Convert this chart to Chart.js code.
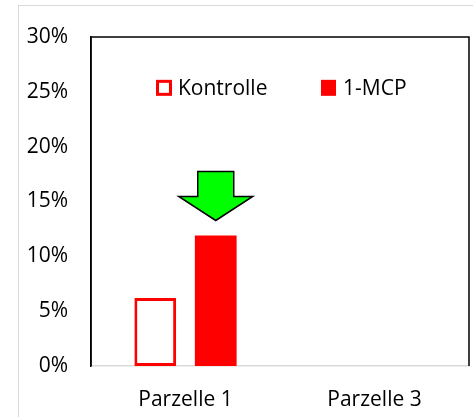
<!DOCTYPE html>
<html><head><meta charset="utf-8">
<script src="https://cdn.jsdelivr.net/npm/chart.js@4"></script>
<style>html,body{margin:0;padding:0;background:#fff}#wrap{width:473px;height:417px;position:relative}</style>
</head><body><div id="wrap"><canvas id="c" width="473" height="417"></canvas></div>
<script>
const categories = ["Parzelle 1", "Parzelle 3"];
const seriesNames = ["Kontrolle", "1-MCP"];
const kontrolle = [0.062, null];
const mcp = [0.119, null];
const yTicks = [0, 0.05, 0.10, 0.15, 0.20, 0.25, 0.30];
const FONT = "'Open Sans', sans-serif";
const FS = 21;

const framePlugin = {
  id: 'frame',
  beforeDraw(chart) {
    const ctx = chart.ctx;
    ctx.save();
    ctx.fillStyle = '#fff';
    ctx.fillRect(0, 0, chart.width, chart.height);
    ctx.strokeStyle = '#d9d9d9';
    ctx.lineWidth = 1;
    ctx.strokeRect(18.5, 5.5, chart.width + 10, chart.height + 10);
    ctx.restore();
  },
  afterDraw(chart) {
    const ctx = chart.ctx, a = chart.chartArea;
    ctx.save();
    ctx.strokeStyle = '#000';
    ctx.lineWidth = 1.5;
    ctx.beginPath();
    ctx.moveTo(a.left, a.bottom);
    ctx.lineTo(a.left, a.top);
    ctx.lineTo(a.right, a.top);
    ctx.lineTo(a.right, a.bottom);
    ctx.stroke();
    // legend inside plot
    ctx.font = FS + "px " + FONT;
    ctx.textBaseline = 'middle';
    const y = chart.scales.y.getPixelForValue(0.25) - 4;
    const xs = [a.left + 65, a.left + 230];
    chart.data.datasets.forEach((ds, i) => {
      const x = xs[i];
      if (i === 0) {
        ctx.fillStyle = '#fff';
        ctx.fillRect(x, y - 8, 16, 16);
        ctx.strokeStyle = ds.borderColor;
        ctx.lineWidth = 3;
        ctx.strokeRect(x + 1.5, y - 6.5, 13, 13);
      } else {
        ctx.fillStyle = ds.backgroundColor;
        ctx.fillRect(x, y - 8, 15, 16);
      }
      ctx.fillStyle = '#000';
      ctx.fillText(ds.label, x + 22, y + 1);
    });
    // green arrow above 1-MCP bar
    const bar = chart.getDatasetMeta(1).data[0];
    const cx = bar.x;
    const tip = bar.y - 15;
    const headTop = tip - 24;
    const shaftTop = headTop - 25;
    ctx.beginPath();
    ctx.moveTo(cx - 18, shaftTop);
    ctx.lineTo(cx + 18, shaftTop);
    ctx.lineTo(cx + 18, headTop);
    ctx.lineTo(cx + 37, headTop);
    ctx.lineTo(cx, tip);
    ctx.lineTo(cx - 37, headTop);
    ctx.lineTo(cx - 18, headTop);
    ctx.closePath();
    ctx.fillStyle = '#00ff00';
    ctx.fill();
    ctx.strokeStyle = '#000';
    ctx.lineWidth = 1.5;
    ctx.lineJoin = 'miter';
    ctx.stroke();
    ctx.restore();
  }
};

new Chart(document.getElementById('c'), {
  type: 'bar',
  data: {
    labels: categories,
    datasets: [
      { label: seriesNames[0], data: kontrolle, backgroundColor: '#fff', borderColor: '#ff0000', borderWidth: 3, borderSkipped: false, barPercentage: 0.69, categoryPercentage: 0.64 },
      { label: seriesNames[1], data: mcp, backgroundColor: '#ff0000', borderColor: '#ff0000', borderWidth: 0, barPercentage: 0.69, categoryPercentage: 0.64 }
    ]
  },
  options: {
    responsive: false,
    animation: false,
    devicePixelRatio: 1,
    layout: { padding: { left: 18, top: 37, right: 4, bottom: 0 } },
    plugins: { legend: { display: false }, tooltip: { enabled: false } },
    scales: {
      x: {
        grid: { display: false, drawTicks: false },
        border: { display: true, color: '#d9d9d9', width: 1.5 },
        ticks: { color: '#000', font: { family: FONT, size: FS }, padding: 21 },
        afterFit(s) { s.height = 51; }
      },
      y: {
        min: 0, max: 0.30,
        afterBuildTicks(s) { s.ticks = yTicks.map(v => ({ value: v })); },
        grid: { display: false, drawTicks: false },
        border: { display: true, color: '#000', width: 1.5 },
        ticks: { color: '#000', font: { family: FONT, size: FS }, padding: 23,
          callback: v => Math.round(v * 100) + '%' },
        afterFit(s) { s.width = 73; }
      }
    }
  },
  plugins: [framePlugin]
});
</script></body></html>
